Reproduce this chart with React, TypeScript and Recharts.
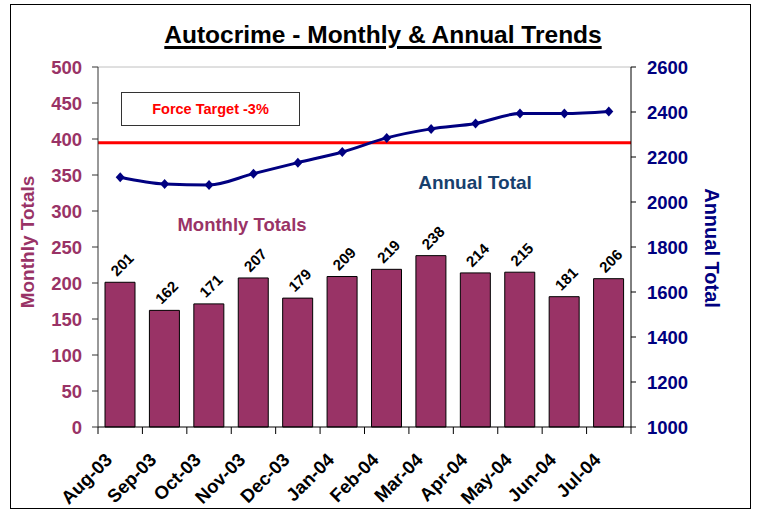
import React from "react";
import { ComposedChart, Bar, Line, XAxis, YAxis, ReferenceLine, LabelList } from "recharts";

const months = [
  "Aug-03", "Sep-03", "Oct-03", "Nov-03", "Dec-03", "Jan-04",
  "Feb-04", "Mar-04", "Apr-04", "May-04", "Jun-04", "Jul-04",
];
const monthlyTotals = [201, 162, 171, 207, 179, 209, 219, 238, 214, 215, 181, 206];
const annualTotals = [2110, 2080, 2076, 2126, 2175, 2222, 2285, 2325, 2349, 2393, 2393, 2402];
const monthlyTicks = [0, 50, 100, 150, 200, 250, 300, 350, 400, 450, 500];
const annualTicks = [1000, 1200, 1400, 1600, 1800, 2000, 2200, 2400, 2600];
const forceTarget = 2263;

const PLUM = "#993366";
const NAVY = "#000080";
const FONT = "'Liberation Sans', Arial, sans-serif";

const data = months.map((month, i) => ({
  month,
  monthly: monthlyTotals[i],
  annual: annualTotals[i],
}));

function MonthTick(props: any) {
  const { x, y, payload, index } = props;
  const half = payload && payload.offset ? payload.offset : 22.2;
  const tx = x - 7;
  const ty = y + 34;
  return (
    <g>
      <line x1={x - half} x2={x - half} y1={y} y2={y + 7} stroke="#000" />
      {index === months.length - 1 && (
        <line x1={x + half} x2={x + half} y1={y} y2={y + 7} stroke="#000" />
      )}
      <text
        x={tx}
        y={ty}
        transform={`rotate(-45 ${tx} ${ty})`}
        textAnchor="end"
        fontSize={18.5}
        fontWeight="bold"
        fill="#000"
        fontFamily={FONT}
      >
        {payload.value}
      </text>
    </g>
  );
}

function Diamond(props: any) {
  const { cx, cy } = props;
  if (cx == null || cy == null) return null;
  return (
    <polygon
      points={`${cx},${cy - 5} ${cx + 4.5},${cy} ${cx},${cy + 5} ${cx - 4.5},${cy}`}
      fill={NAVY}
    />
  );
}

function BarValue(props: any) {
  const { x, y, width, value } = props;
  const cx = x + width / 2 + 2;
  const cy = y - 18;
  return (
    <text
      x={cx}
      y={cy}
      transform={`rotate(-45 ${cx} ${cy})`}
      textAnchor="middle"
      dominantBaseline="central"
      fontSize={15}
      fontWeight="bold"
      fill="#000"
      fontFamily={FONT}
    >
      {value}
    </text>
  );
}

const abs = (style: React.CSSProperties): React.CSSProperties => ({
  position: "absolute",
  fontFamily: FONT,
  fontWeight: "bold",
  whiteSpace: "nowrap",
  ...style,
});

export default function App() {
  return (
    <div style={{ position: "absolute", left: 0, top: 0, width: 758, height: 512, background: "#fff", fontFamily: FONT }}>
      <div style={{ position: "absolute", left: 10, top: 4, width: 741, height: 505, border: "1px solid #000", boxSizing: "border-box" }} />
      <div style={abs({ left: 383, top: 35, transform: "translate(-50%, -50%)", fontSize: 24.5, color: "#000", textDecoration: "underline", textDecorationThickness: 3, textUnderlineOffset: 3 })}>
        Autocrime - Monthly &amp; Annual Trends
      </div>

      <ComposedChart
        width={758}
        height={512}
        data={data}
        margin={{ top: 67, right: 67, bottom: 5, left: 10 }}
        style={{ position: "absolute", left: 0, top: 0 }}
      >
        <XAxis
          dataKey="month"
          xAxisId={0}
          height={80}
          tickLine={false}
          tickSize={0}
          tickMargin={0}
          interval={0}
          stroke="#000"
          tick={<MonthTick />}
        />
        <YAxis
          yAxisId="left"
          orientation="left"
          width={88}
          domain={[0, 500]}
          ticks={monthlyTicks}
          interval={0}
          tickSize={6}
          tickMargin={10}
          stroke="#333"
          tick={{ fill: PLUM, fontSize: 18.5, fontWeight: "bold", fontFamily: FONT }}
        />
        <YAxis
          yAxisId="right"
          orientation="right"
          width={60}
          domain={[1000, 2600]}
          ticks={annualTicks}
          interval={0}
          tickSize={5}
          tickMargin={11}
          stroke="#000"
          tick={{ fill: NAVY, fontSize: 18.5, fontWeight: "bold", fontFamily: FONT }}
        />
        <ReferenceLine yAxisId="left" y={500} stroke="#c0c0c0" />
        <Bar
          yAxisId="left"
          dataKey="monthly"
          fill={PLUM}
          stroke="#000"
          strokeWidth={1}
          barSize={30}
          isAnimationActive={false}
        >
          <LabelList dataKey="monthly" content={<BarValue />} />
        </Bar>
        <ReferenceLine yAxisId="right" y={forceTarget} stroke="#ff0000" strokeWidth={3} />
        <Line
          yAxisId="right"
          type="monotone"
          dataKey="annual"
          stroke={NAVY}
          strokeWidth={3}
          dot={<Diamond />}
          activeDot={false}
          isAnimationActive={false}
        />
      </ComposedChart>

      <div style={{ position: "absolute", left: 121, top: 92, width: 179, height: 34, border: "1px solid #333", boxSizing: "border-box", background: "#fff", display: "flex", alignItems: "center", justifyContent: "center" }}>
        <span style={{ fontFamily: FONT, fontWeight: "bold", fontSize: 14.5, color: "#ff0000" }}>Force Target -3%</span>
      </div>
      <div style={abs({ left: 242, top: 225, transform: "translate(-50%, -50%)", fontSize: 18.5, color: PLUM })}>
        Monthly Totals
      </div>
      <div style={abs({ left: 475, top: 183, transform: "translate(-50%, -50%)", fontSize: 19, color: "#17406D" })}>
        Annual Total
      </div>
      <div style={abs({ left: 28, top: 242, transform: "translate(-50%, -50%) rotate(-90deg)", fontSize: 19, color: PLUM })}>
        Monthly Totals
      </div>
      <div style={abs({ left: 711, top: 248, transform: "translate(-50%, -50%) rotate(90deg)", fontSize: 20, color: NAVY })}>
        Annual Total
      </div>
    </div>
  );
}
